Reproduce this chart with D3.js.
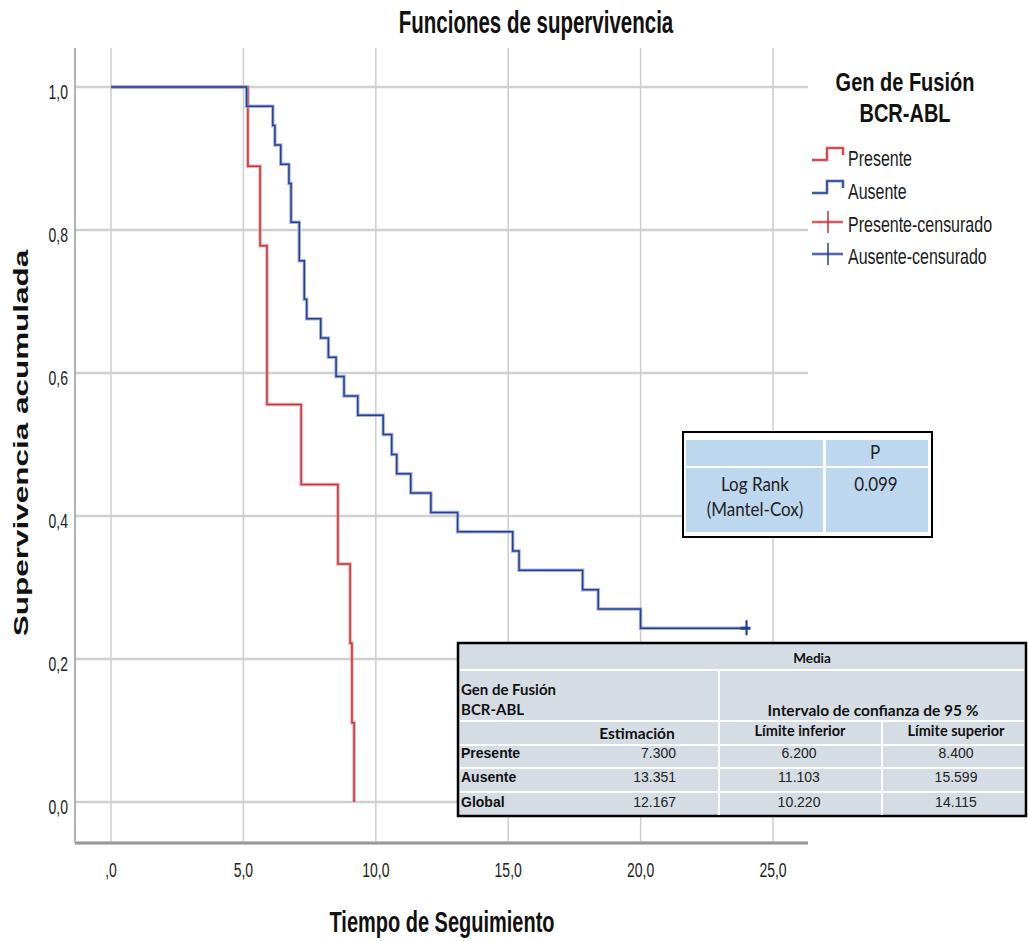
<!DOCTYPE html>
<html>
<head>
<meta charset="utf-8">
<title>Funciones de supervivencia</title>
<script src="https://d3js.org/d3.v7.min.js"></script>
<style>
  body { margin: 0; background: #fff; }
  svg { display: block; }
</style>
</head>
<body>
<svg id="chart" width="1028" height="941"></svg>
<script>
// Kaplan-Meier steps
const presenteTime = [0, 5.17, 5.63, 5.89, 7.18, 8.57, 9.03, 9.10, 9.18];
const presenteSurv = [1, 0.889, 0.778, 0.556, 0.444, 0.333, 0.222, 0.111, 0];

const ausenteTime = [0, 5.12, 6.11, 6.19, 6.41, 6.72, 6.80, 7.11, 7.30, 7.39, 7.92, 8.21, 8.50, 8.80,
                     9.32, 10.28, 10.60, 10.79, 11.32, 12.08, 13.09, 15.17, 15.41, 17.81, 18.40, 20.00, 24.0];
const ausenteSurv = [1, 0.973, 0.946, 0.919, 0.892, 0.865, 0.811, 0.757, 0.703, 0.676, 0.649, 0.622, 0.595, 0.568,
                     0.541, 0.514, 0.486, 0.459, 0.432, 0.405, 0.378, 0.351, 0.324, 0.297, 0.270, 0.243, 0.243];

const ausenteCensorTime = [24.0];
const ausenteCensorSurv = [0.243];

const xTicks = [0, 5, 10, 15, 20, 25];
const yTicks = [0, 0.2, 0.4, 0.6, 0.8, 1.0];

const legendLabels = ["Presente", "Ausente", "Presente-censurado", "Ausente-censurado"];

// log rank box
const logRankHeader = ["", "P"];
const logRankLabel = ["Log Rank", "(Mantel-Cox)"];
const logRankP = "0.099";

// mean survival table
const groups = ["Presente", "Ausente", "Global"];
const estimacion = ["7.300", "13.351", "12.167"];
const limiteInferior = ["6.200", "11.103", "10.220"];
const limiteSuperior = ["8.400", "15.599", "14.115"];

const RED = "#c8323a", RED_HALO = "#e4a0a0";
const BLUE = "#263f90", BLUE_HALO = "#93a3d6";
const ARIAL = "'Liberation Sans', Arial, sans-serif";
const CALIBRI = "Lato, 'Open Sans', sans-serif";

const svg = d3.select("#chart");
svg.append("rect").attr("width", 1028).attr("height", 941).attr("fill", "#fff");

const plot = {left: 75, right: 808, top: 48, bottom: 843};
const x = d3.scaleLinear().domain([0, 25]).range([111, 773]);
const y = d3.scaleLinear().domain([0, 1]).range([802, 87]);

// text helper: SPSS output was stretched vertically
function stext(g, tx, ty, str, o) {
  o = o || {};
  return g.append("text")
    .attr("transform", `translate(${tx},${ty}) scale(1,${o.sy || 1})`)
    .attr("text-anchor", o.anchor || "start")
    .attr("font-family", o.font || ARIAL)
    .attr("font-size", o.size || 14)
    .attr("font-weight", o.weight || "normal")
    .attr("fill", o.fill || "#111")
    .text(str);
}

const fmt = d => d3.format(".1f")(d).replace(".", ",");

// grid
const grid = svg.append("g");
grid.selectAll(".vg").data(xTicks).join("line")
  .attr("x1", d => x(d)).attr("x2", d => x(d))
  .attr("y1", plot.top).attr("y2", plot.bottom)
  .attr("stroke", "#cdcdcd").attr("stroke-width", 1.5);
grid.selectAll(".hg").data(yTicks).join("line")
  .attr("x1", plot.left).attr("x2", plot.right)
  .attr("y1", d => y(d)).attr("y2", d => y(d))
  .attr("stroke", "#d0d0d0").attr("stroke-width", 2.5);

// axis lines
svg.append("line").attr("x1", plot.left).attr("x2", plot.left)
  .attr("y1", plot.top).attr("y2", plot.bottom)
  .attr("stroke", "#9a9a9a").attr("stroke-width", 1.5);
svg.append("line").attr("x1", plot.left).attr("x2", plot.right)
  .attr("y1", plot.bottom).attr("y2", plot.bottom)
  .attr("stroke", "#c4c4c4").attr("stroke-width", 4);
svg.append("line").attr("x1", plot.left).attr("x2", plot.right)
  .attr("y1", plot.bottom).attr("y2", plot.bottom)
  .attr("stroke", "#8a8a8a").attr("stroke-width", 1.5);

// tick labels
xTicks.forEach(t => {
  stext(svg, x(t), 877, t === 0 ? ",0" : fmt(t), {anchor: "middle", size: 14, sy: 1.45, fill: "#222"});
});
yTicks.forEach(t => {
  stext(svg, 68, y(t) + 12, fmt(t), {anchor: "end", size: 14, sy: 1.5, fill: "#222"});
});

// titles
stext(svg, 536, 33, "Funciones de supervivencia", {anchor: "middle", size: 20.5, weight: "bold", sy: 1.5});
stext(svg, 442, 932, "Tiempo de Seguimiento", {anchor: "middle", size: 20, weight: "bold", sy: 1.45});
svg.append("text")
  .attr("transform", "translate(28,443) scale(1,1.5) rotate(-90)")
  .attr("text-anchor", "middle")
  .attr("font-family", ARIAL).attr("font-size", 21).attr("font-weight", "bold")
  .attr("fill", "#111")
  .text("Supervivencia acumulada");

// curves
const line = d3.line().x(d => x(d[0])).y(d => y(d[1])).curve(d3.curveStepAfter);
const presente = d3.zip(presenteTime, presenteSurv);
const ausente = d3.zip(ausenteTime, ausenteSurv);

function drawCurve(data, color, halo) {
  svg.append("path").datum(data).attr("d", line)
    .attr("fill", "none").attr("stroke", halo).attr("stroke-width", 3.5).attr("opacity", 0.8);
  svg.append("path").datum(data).attr("d", line)
    .attr("fill", "none").attr("stroke", color).attr("stroke-width", 1.5);
}
drawCurve(presente, RED, RED_HALO);
drawCurve(ausente, BLUE, BLUE_HALO);

// censor marks
const censor = d3.zip(ausenteCensorTime, ausenteCensorSurv);
const cg = svg.append("g");
cg.selectAll(".ch").data(censor).join("line")
  .attr("x1", d => x(d[0]) - 6).attr("x2", d => x(d[0]) + 4)
  .attr("y1", d => y(d[1])).attr("y2", d => y(d[1]))
  .attr("stroke", BLUE).attr("stroke-width", 3);
cg.selectAll(".cv").data(censor).join("line")
  .attr("x1", d => x(d[0])).attr("x2", d => x(d[0]))
  .attr("y1", d => y(d[1]) - 8).attr("y2", d => y(d[1]) + 7)
  .attr("stroke", BLUE).attr("stroke-width", 2.2);

// legend
const lg = svg.append("g");
stext(lg, 905, 91, "Gen de Fusión", {anchor: "middle", size: 20, weight: "bold", sy: 1.3});
stext(lg, 905, 122, "BCR-ABL", {anchor: "middle", size: 20, weight: "bold", sy: 1.3});
const legY = [166, 199, 232, 264];
legendLabels.forEach((lab, i) => {
  const col = i % 2 === 0 ? RED : BLUE;
  const halo = i % 2 === 0 ? RED_HALO : BLUE_HALO;
  const yy = legY[i];
  if (i < 2) {
    const p = `M812,${yy - 6} H827 V${yy - 18} H843 V${yy - 11}`;
    lg.append("path").attr("d", p).attr("fill", "none").attr("stroke", halo).attr("stroke-width", 3);
    lg.append("path").attr("d", p).attr("fill", "none").attr("stroke", col).attr("stroke-width", 1.5);
  } else {
    lg.append("line").attr("x1", 812).attr("x2", 843).attr("y1", yy - 10).attr("y2", yy - 10)
      .attr("stroke", halo).attr("stroke-width", 3);
    lg.append("line").attr("x1", 812).attr("x2", 843).attr("y1", yy - 10).attr("y2", yy - 10)
      .attr("stroke", col).attr("stroke-width", 1.2);
    lg.append("line").attr("x1", 828).attr("x2", 828).attr("y1", yy - 21).attr("y2", yy + 1)
      .attr("stroke", col).attr("stroke-width", 1.5);
  }
  stext(lg, 848, yy, lab, {size: 16, sy: 1.35, fill: "#1a1a1a"});
});

// log rank box
const lr = svg.append("g");
lr.append("rect").attr("x", 683).attr("y", 432).attr("width", 249).attr("height", 105)
  .attr("fill", "#fff").attr("stroke", "#000").attr("stroke-width", 2);
const LB = "#bdd7ee";
[[686, 440, 137, 26], [826, 440, 102, 26], [686, 468, 137, 64], [826, 468, 102, 64]].forEach(r => {
  lr.append("rect").attr("x", r[0]).attr("y", r[1]).attr("width", r[2]).attr("height", r[3]).attr("fill", LB);
});
stext(lr, 875, 459, logRankHeader[1], {anchor: "middle", font: CALIBRI, size: 17, sy: 1.1, fill: "#222"});
stext(lr, 755, 491, logRankLabel[0], {anchor: "middle", font: CALIBRI, size: 17, sy: 1.1, fill: "#222"});
stext(lr, 755, 516, logRankLabel[1], {anchor: "middle", font: CALIBRI, size: 17, sy: 1.1, fill: "#222"});
stext(lr, 876, 491, logRankP, {anchor: "middle", font: CALIBRI, size: 17, sy: 1.1, fill: "#222"});

// mean table
const mt = svg.append("g");
mt.append("rect").attr("x", 458).attr("y", 643).attr("width", 568).attr("height", 173)
  .attr("fill", "#d6dce4").attr("stroke", "#000").attr("stroke-width", 2.5);
[670, 721, 745, 768, 792].forEach(yy => {
  mt.append("line").attr("x1", 460).attr("x2", 1024).attr("y1", yy).attr("y2", yy)
    .attr("stroke", "#fff").attr("stroke-width", 2);
});
mt.append("line").attr("x1", 719).attr("x2", 719).attr("y1", 670).attr("y2", 815)
  .attr("stroke", "#fff").attr("stroke-width", 2);
mt.append("line").attr("x1", 882).attr("x2", 882).attr("y1", 721).attr("y2", 815)
  .attr("stroke", "#fff").attr("stroke-width", 2);

stext(mt, 812, 663, "Media", {anchor: "middle", font: CALIBRI, size: 13.5, weight: "bold"});
stext(mt, 461, 695, "Gen de Fusión", {font: CALIBRI, size: 15, weight: "bold"});
stext(mt, 461, 715, "BCR-ABL", {font: CALIBRI, size: 15, weight: "bold"});
stext(mt, 873, 716, "Intervalo de confianza de 95 %", {anchor: "middle", font: CALIBRI, size: 15.5, weight: "bold"});
stext(mt, 637, 739, "Estimación", {anchor: "middle", font: CALIBRI, size: 15.5, weight: "bold"});
stext(mt, 800, 736, "Límite inferior", {anchor: "middle", font: CALIBRI, size: 14.5, weight: "bold"});
stext(mt, 956, 736, "Límite superior", {anchor: "middle", font: CALIBRI, size: 14.5, weight: "bold"});

const rowY = [758, 782, 807];
groups.forEach((g, i) => {
  stext(mt, 461, rowY[i], g, {size: 14, weight: "bold"});
  stext(mt, 676, rowY[i], estimacion[i], {anchor: "end", size: 14, fill: "#222"});
  stext(mt, 799, rowY[i], limiteInferior[i], {anchor: "middle", size: 14, fill: "#222"});
  stext(mt, 956, rowY[i], limiteSuperior[i], {anchor: "middle", size: 14, fill: "#222"});
});
</script>
</body>
</html>
